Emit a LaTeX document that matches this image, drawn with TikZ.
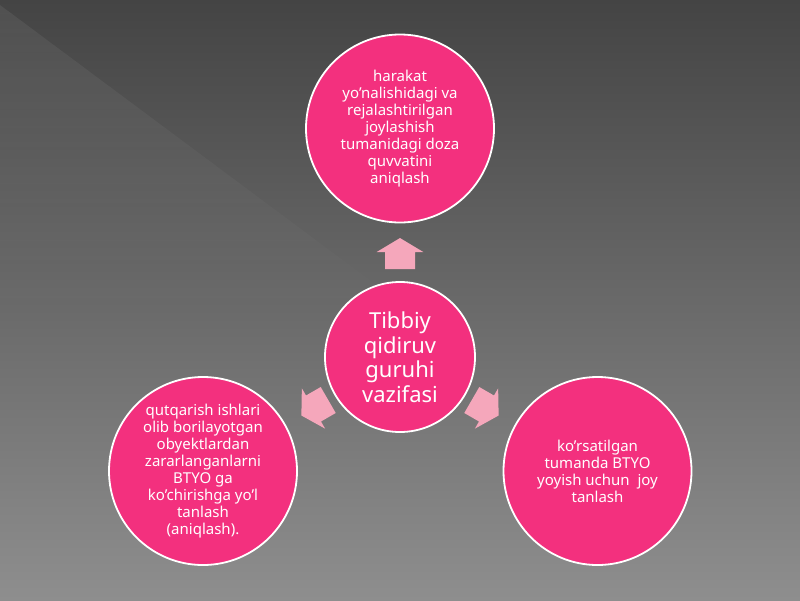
\documentclass[tikz,border=0pt]{standalone}
\usepackage{fontspec}
\setmainfont{Noto Sans}
\usetikzlibrary{fadings}
\definecolor{bubblepink}{RGB}{243,48,126}
\definecolor{arrowpink}{RGB}{245,167,187}
\definecolor{bgtop}{RGB}{68,68,68}
\definecolor{bgbot}{RGB}{142,142,142}
\tikzfading[name=fadediag, top color=transparent!0, middle color=transparent!35, bottom color=transparent!100]
\tikzset{
  blockarrow/.pic={
    \fill[arrowpink] (-17pt,-15pt) -- (0pt,-15pt) -- (0pt,-23.3pt) -- (14pt,0pt)
      -- (0pt,23.3pt) -- (0pt,15pt) -- (-17pt,15pt) -- cycle;
  }
}
\begin{document}
\begin{tikzpicture}[x=1pt,y=-1pt,
  bubble/.style={circle, fill=bubblepink, draw=white, line width=1.8pt,
    inner sep=0pt, text=white, align=center, minimum size=188pt,
    font=\fontsize{15}{17}\selectfont},
  hub/.style={bubble, minimum size=150pt, font=\fontsize{22}{24.5}\selectfont}]
  % background
  \fill[top color=bgtop, bottom color=bgbot] (0,0) rectangle (800,600);
  \fill[white, opacity=0.065, path fading=fadediag] (0,5) -- (430,325) -- (0,325) -- cycle;
  \useasboundingbox (0,0) rectangle (800,600);
  % nodes
  \node[hub] (hub) at (400,357) {Tibbiy\\qidiruv\\guruhi\\vazifasi};
  \node[bubble] (top) at (400,128.5) {harakat\\yo’nalishidagi va\\rejalashtirilgan\\joylashish\\tumanidagi doza\\quvvatini\\aniqlash};
  \node[bubble] (left) at (203,471) {qutqarish ishlari\\olib borilayotgan\\obyektlardan\\zararlanganlarni\\BTYO ga\\ko’chirishga yo’l\\tanlash\\(aniqlash).};
  \node[bubble] (right) at (597.5,471) {ko’rsatilgan\\tumanda BTYO\\yoyish uchun\ \ joy\\tanlash};
  % arrows
  \coordinate (arrTop) at (400,252);
  \coordinate (arrLeft) at (313.5,408.5);
  \coordinate (arrRight) at (486.5,408.5);
  \pic[rotate=90] at (arrTop) {blockarrow};
  \pic[rotate=210] at (arrLeft) {blockarrow};
  \pic[rotate=330] at (arrRight) {blockarrow};
\end{tikzpicture}
\end{document}
